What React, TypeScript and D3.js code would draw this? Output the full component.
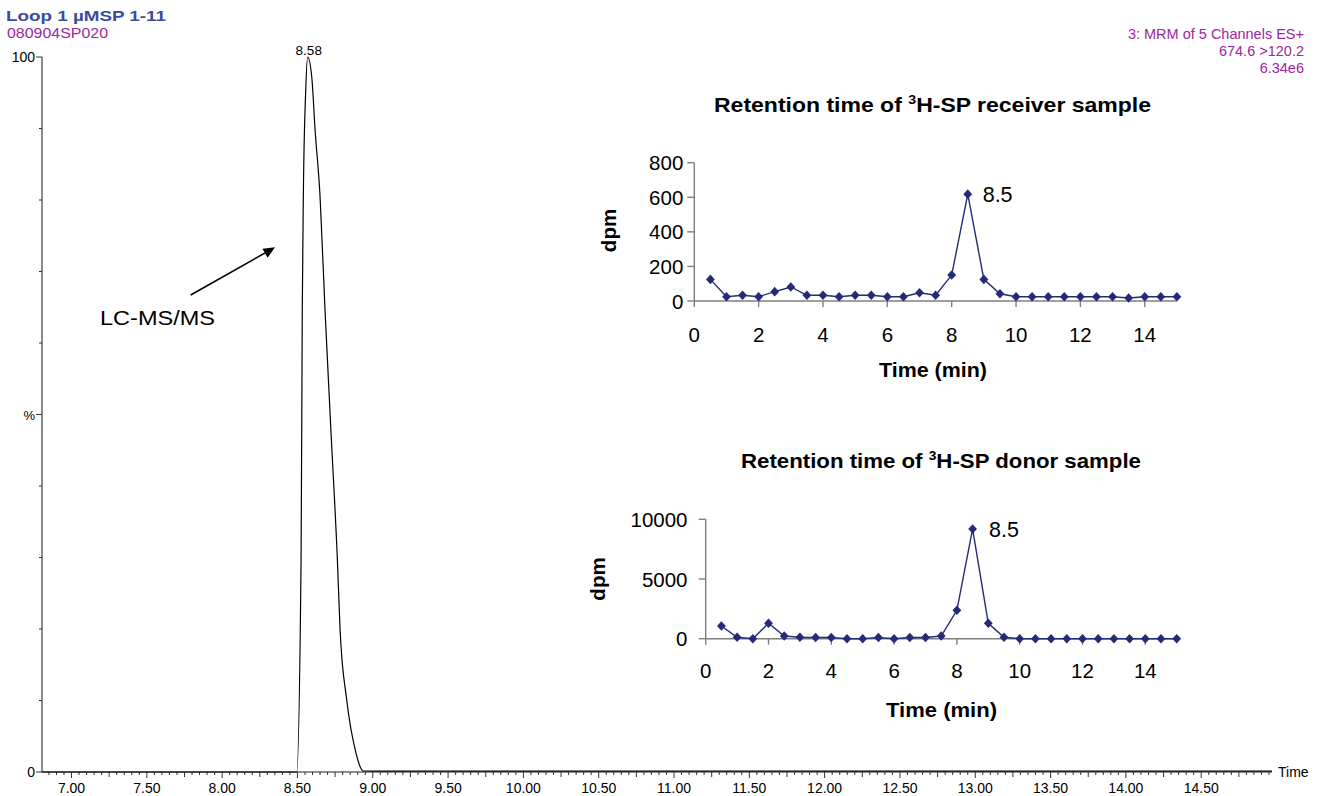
import React from "react";
import * as d3 from "d3";

// ---------- Main LC-MS/MS chromatogram ----------
const chromTime = [6.804, 8.49, 8.495, 8.524, 8.532, 8.539, 8.555, 8.568, 8.595, 8.617, 8.65, 8.683, 8.724, 8.765, 8.783, 8.827, 8.889, 8.916, 8.938, 9.0, 14.97];
const chromPct = [0, 0, 0, 29.7, 64.6, 80.5, 95.4, 100, 97.2, 89.8, 80.5, 64.6, 47, 29.7, 19.9, 10.1, 2.6, 0.74, 0.14, 0.12, 0.12];
const mainXLabels = ["7.00", "7.50", "8.00", "8.50", "9.00", "9.50", "10.00", "10.50", "11.00", "11.50", "12.00", "12.50", "13.00", "13.50", "14.00", "14.50"];
const mainYMinor = [10, 20, 30, 40, 60, 70, 80, 90];

// ---------- Inset charts (fractions) ----------
const fractionTime = [0.5, 1, 1.5, 2, 2.5, 3, 3.5, 4, 4.5, 5, 5.5, 6, 6.5, 7, 7.5, 8, 8.5, 9, 9.5, 10, 10.5, 11, 11.5, 12, 12.5, 13, 13.5, 14, 14.5, 15];
const receiverDpm = [125, 25, 33, 25, 54, 81, 33, 33, 25, 33, 33, 25, 25, 48, 33, 150, 618, 125, 42, 25, 25, 25, 25, 25, 25, 25, 17, 25, 25, 25];
const donorDpm = [1063, 117, 0, 1290, 226, 117, 100, 100, 0, 0, 100, 0, 100, 100, 226, 2378, 9190, 1290, 117, 0, 0, 0, 0, 0, 0, 0, 0, 0, 0, 0];
const insetXTicks = [0, 2, 4, 6, 8, 10, 12, 14];
const receiverYTicks = [0, 200, 400, 600, 800];
const donorYTicks = [0, 5000, 10000];

const FONT = "'Liberation Sans', Arial, Helvetica, sans-serif";
const NAVY = "#252a78";
const PURPLE = "#a0259f";
const DIAMOND = "M0,-4.8L4.4,0L0,4.8L-4.4,0Z";

type InsetProps = {
  values: number[];
  yTicks: number[];
  yMax: number;
  x0: number; x1: number; yBottom: number; yTop: number;
  title: string; titleX: number; titleW: number; titleY: number;
  dpmX: number; dpmY: number;
  xLabelY: number; yLabelRight: number;
  xTitleX: number; xTitleW: number; xTitleY: number;
  peakLabelX: number; peakLabelY: number;
};

function Inset(p: InsetProps) {
  const x = d3.scaleLinear().domain([0, 15]).range([p.x0, p.x1]);
  const y = d3.scaleLinear().domain([0, p.yMax]).range([p.yBottom, p.yTop]);
  const line = d3.line<number>().x((_, i) => x(fractionTime[i])).y((v) => y(v));
  return (
    <g>
      <text x={p.titleX} y={p.titleY} fontFamily={FONT} fontWeight="bold" fontSize={21} textLength={p.titleW} lengthAdjust="spacingAndGlyphs">
        <tspan>Retention time of </tspan>
        <tspan fontSize={13} dy={-8}>3</tspan>
        <tspan dy={8}>{p.title}</tspan>
      </text>
      {/* axes */}
      <line x1={p.x0} x2={p.x0} y1={y(p.yMax)} y2={p.yBottom} stroke="#7f7f7f" strokeWidth={1.4} />
      <line x1={p.x0} x2={p.x1} y1={p.yBottom} y2={p.yBottom} stroke="#7f7f7f" strokeWidth={1.4} />
      {p.yTicks.map((t) => (
        <g key={"yt" + t}>
          <line x1={p.x0 - 7} x2={p.x0} y1={y(t)} y2={y(t)} stroke="#7f7f7f" strokeWidth={1.4} />
          <text x={p.yLabelRight} y={y(t) + 7.5} textAnchor="end" fontFamily={FONT} fontSize={20.5}>{t}</text>
        </g>
      ))}
      {insetXTicks.map((t) => (
        <g key={"xt" + t}>
          <line x1={x(t)} x2={x(t)} y1={p.yBottom} y2={p.yBottom + 6} stroke="#7f7f7f" strokeWidth={1.4} />
          <text x={x(t)} y={p.xLabelY} textAnchor="middle" fontFamily={FONT} fontSize={20.5}>{t}</text>
        </g>
      ))}
      <text transform={`translate(${p.dpmX},${p.dpmY}) rotate(-90)`} textAnchor="middle" dominantBaseline="central" fontFamily={FONT} fontWeight="bold" fontSize={20.5}>dpm</text>
      <text x={p.xTitleX} y={p.xTitleY} fontFamily={FONT} fontWeight="bold" fontSize={21} textLength={p.xTitleW} lengthAdjust="spacingAndGlyphs">Time (min)</text>
      <path d={line(p.values) || ""} fill="none" stroke={NAVY} strokeWidth={1.4} />
      {p.values.map((v, i) => (
        <path key={"m" + i} d={DIAMOND} transform={`translate(${x(fractionTime[i])},${y(v)})`} fill={NAVY} />
      ))}
      <text x={p.peakLabelX} y={p.peakLabelY} fontFamily={FONT} fontSize={21.5}>8.5</text>
    </g>
  );
}

export default function App() {
  if (typeof document !== "undefined") document.body.style.margin = "0";
  const W = 1320, H = 796;
  const x = d3.scaleLinear().domain([6.804, 14.97]).range([42, 1272]);
  const y = d3.scaleLinear().domain([0, 100]).range([772, 57]);
  const trace = d3.line<number>().x((_, i) => x(chromTime[i])).y((v) => y(v)).curve(d3.curveMonotoneX);
  const minorTicks = d3.range(Math.ceil(6.804 / 0.05), Math.floor(14.97 / 0.05) + 1).map((k) => k * 0.05);

  return (
    <svg width={W} height={H} style={{ position: "absolute", left: 0, top: 0, display: "block", background: "#fff" }}>
      <rect width={W} height={H} fill="#fff" />
      {/* header */}
      <text x={6} y={20.7} fontFamily={FONT} fontWeight="bold" fontSize={15.5} fill="#3c4a9f" textLength={160} lengthAdjust="spacingAndGlyphs">Loop 1 µMSP 1-11</text>
      <text x={7} y={38.3} fontFamily={FONT} fontSize={14.5} fill={PURPLE} textLength={101} lengthAdjust="spacingAndGlyphs">080904SP020</text>
      <text x={1304} y={39.3} textAnchor="end" fontFamily={FONT} fontSize={14.5} fill={PURPLE}>3: MRM of 5 Channels ES+</text>
      <text x={1304} y={56} textAnchor="end" fontFamily={FONT} fontSize={14.5} fill={PURPLE}>674.6 &gt;120.2</text>
      <text x={1304} y={72.7} textAnchor="end" fontFamily={FONT} fontSize={14.5} fill={PURPLE}>6.34e6</text>

      {/* main y axis */}
      <line x1={42} x2={42} y1={y(100)} y2={y(0)} stroke="#6e6e6e" strokeWidth={1.6} />
      <line x1={36} x2={42} y1={y(100)} y2={y(100)} stroke="#333" strokeWidth={1} />
      <line x1={36} x2={42} y1={y(50)} y2={y(50)} stroke="#333" strokeWidth={1} />
      <line x1={36} x2={42} y1={y(0)} y2={y(0)} stroke="#333" strokeWidth={1} />
      {mainYMinor.map((v) => (
        <line key={"ym" + v} x1={39} x2={42} y1={y(v)} y2={y(v)} stroke="#333" strokeWidth={1} />
      ))}
      <text x={35} y={y(100) + 5} textAnchor="end" fontFamily={FONT} fontSize={14}>100</text>
      <text x={35} y={y(50) + 5} textAnchor="end" fontFamily={FONT} fontSize={13}>%</text>
      <text x={35} y={y(0) + 5} textAnchor="end" fontFamily={FONT} fontSize={14}>0</text>

      {/* main x axis */}
      <line x1={42} x2={1272} y1={y(0)} y2={y(0)} stroke="#222" strokeWidth={1.2} />
      {minorTicks.map((t, i) => {
        const k = Math.round(t / 0.05);
        const len = k % 10 === 0 ? 6 : k % 5 === 0 ? 5 : 3;
        return <line key={"xm" + i} x1={x(t)} x2={x(t)} y1={y(0)} y2={y(0) + len} stroke="#333" strokeWidth={1} />;
      })}
      {mainXLabels.map((s) => (
        <text key={s} x={x(+s)} y={792.7} textAnchor="middle" fontFamily={FONT} fontSize={14}>{s}</text>
      ))}
      <text x={1278} y={777} fontFamily={FONT} fontSize={14}>Time</text>

      {/* trace */}
      <path d={trace(chromPct) || ""} fill="none" stroke="#000" strokeWidth={1.2} />
      <text x={x(8.575)} y={55} textAnchor="middle" fontFamily={FONT} fontSize={13.5}>8.58</text>

      {/* arrow annotation */}
      <line x1={190.7} y1={295} x2={266} y2={252.4} stroke="#000" strokeWidth={1.6} />
      <path d="M275,247.3 L262.5,248.8 L267.6,257.8 Z" fill="#000" />
      <text x={100} y={325} fontFamily={FONT} fontSize={21} textLength={115} lengthAdjust="spacingAndGlyphs">LC-MS/MS</text>

      <Inset values={receiverDpm} yTicks={receiverYTicks} yMax={800}
        x0={694.3} x1={1176.9} yBottom={301} yTop={162.7}
        title="H-SP receiver sample" titleX={714} titleW={437} titleY={111.7}
        dpmX={608.6} dpmY={230.5} xLabelY={341.7} yLabelRight={683.3}
        xTitleX={879} xTitleW={108} xTitleY={377}
        peakLabelX={982.7} peakLabelY={201.7} />
      <Inset values={donorDpm} yTicks={donorYTicks} yMax={10000}
        x0={705.7} x1={1176.7} yBottom={638.7} yTop={519.3}
        title="H-SP donor sample" titleX={741} titleW={400} titleY={468}
        dpmX={597} dpmY={579} xLabelY={678} yLabelRight={687.5}
        xTitleX={886} xTitleW={111} xTitleY={717}
        peakLabelX={989} peakLabelY={536.7} />
    </svg>
  );
}
